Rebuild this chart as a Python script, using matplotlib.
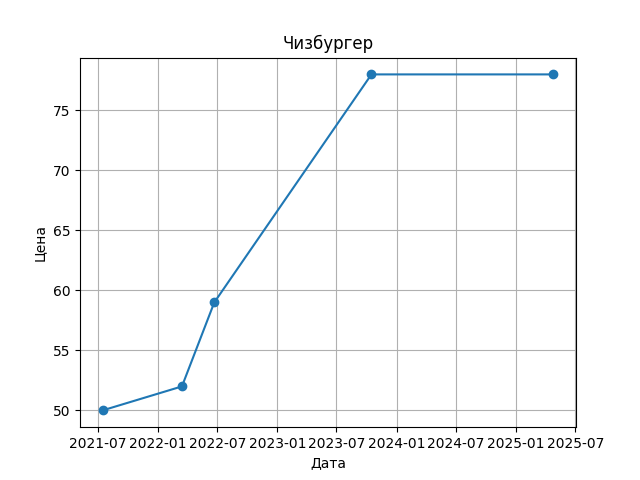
import matplotlib
matplotlib.use("Agg")
import matplotlib.pyplot as plt
import pandas as pd

# Price history
dates = ["2021-07-15", "2022-03-15", "2022-06-22", "2023-10-16", "2025-04-25"]
prices = [50, 52, 59, 78, 78]

x = pd.to_datetime(dates)

fig, ax = plt.subplots(figsize=(6.4, 4.8), dpi=100)
ax.plot(x, prices, marker="o")
ax.set_title("Чизбургер")
ax.set_xlabel("Дата")
ax.set_ylabel("Цена")
ax.grid(True)

fig.savefig("out.png")
